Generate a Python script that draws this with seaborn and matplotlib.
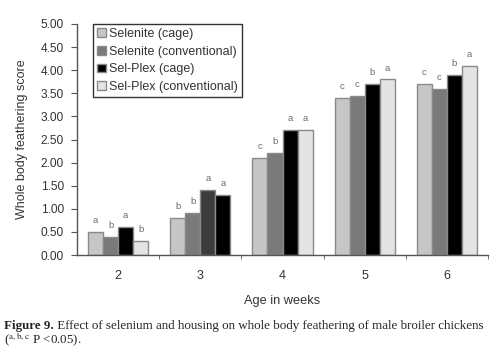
import matplotlib
matplotlib.use("Agg")
import matplotlib.pyplot as plt
import seaborn as sns
import pandas as pd
import numpy as np

weeks = ["2", "3", "4", "5", "6"]
groups = ["Selenite (cage)", "Selenite (conventional)", "Sel-Plex (cage)", "Sel-Plex (conventional)"]
selenite_cage = [0.50, 0.80, 2.10, 3.40, 3.70]
selenite_conv = [0.40, 0.90, 2.20, 3.45, 3.60]
selplex_cage = [0.60, 1.40, 2.70, 3.70, 3.90]
selplex_conv = [0.30, 1.30, 2.70, 3.80, 4.10]
letters = [
    ["a", "b", "c", "c", "c"],
    ["b", "b", "b", "c", "c"],
    ["a", "a", "a", "b", "b"],
    ["b", "a", "a", "a", "a"],
]
colors = ["#c6c6c6", "#7a7a7a", "#000000", "#e4e4e4"]

series = [selenite_cage, selenite_conv, selplex_cage, selplex_conv]
rows = []
for g, vals in zip(groups, series):
    for w, v in zip(weeks, vals):
        rows.append({"week": w, "group": g, "score": v})
df = pd.DataFrame(rows)

sns.set_style("white")
plt.rcParams["font.family"] = ["Liberation Sans", "DejaVu Sans"]

fig = plt.figure(figsize=(4.99, 3.54), dpi=100)
ax = fig.add_axes([77 / 499, 1 - 255 / 354, (488 - 77) / 499, (255 - 24) / 354])

sns.barplot(data=df, x="week", y="score", hue="group", hue_order=groups,
            order=weeks, palette=colors, width=0.73, gap=0,
            edgecolor="#8a8a8a", linewidth=1.0, saturation=1, ax=ax, errorbar=None)

# Annotate significance letters
for gi, cont in enumerate(ax.containers):
    for wi, bar in enumerate(cont):
        h = bar.get_height()
        ax.text(bar.get_x() + bar.get_width() / 2, h + 0.15, letters[gi][wi],
                ha="center", va="bottom", fontsize=6.8, color="#6a6a6a")

# oddity in reference: week 3 Sel-Plex bars appear dark gray / black
ax.containers[2][1].set_facecolor("#3c3c3c")
ax.containers[3][1].set_facecolor("#000000")

ax.set_xlim(-0.5, 4.5)
ax.set_ylim(0, 5)
ax.set_yticks(np.arange(0, 5.01, 0.5))
ax.set_yticklabels([f"{v:.2f}" for v in np.arange(0, 5.01, 0.5)])
ax.set_xticks(range(5))
ax.set_xticklabels(weeks)
ax.set_xticks([0.5, 1.5, 2.5, 3.5, 4.5], minor=True)
ax.tick_params(axis="x", which="major", length=0, pad=11, labelsize=9, labelcolor="#333333")
ax.tick_params(axis="x", which="minor", length=3, direction="out", color="#555555", bottom=True)
ax.tick_params(axis="y", length=4, direction="out", color="#555555", left=True,
               labelsize=8.6, labelcolor="#333333", pad=5.5)

for s in ["top", "right"]:
    ax.spines[s].set_visible(False)
for s in ["left", "bottom"]:
    ax.spines[s].set_color("#555555")
    ax.spines[s].set_linewidth(1.0)

ax.set_xlabel("Age in weeks", fontsize=9.2, color="#333333", labelpad=9)
ax.set_ylabel("Whole body feathering score", fontsize=9, color="#333333", labelpad=9)

leg = ax.legend(loc="upper left", bbox_to_anchor=(16 / 411, 1.0), fontsize=9,
                frameon=True, fancybox=False, edgecolor="#000000",
                handlelength=0.7, handleheight=0.7, handletextpad=0.3,
                labelspacing=0.46, borderpad=0.3, borderaxespad=0.0)
leg.get_frame().set_linewidth(1.0)
for t in leg.get_texts():
    t.set_color("#333333")

plt.rcParams["mathtext.fontset"] = "stix"
serif = ["Liberation Serif", "DejaVu Serif"]
t1 = fig.text(4 / 499, 1 - 329 / 354, "Figure 9.", fontsize=9.4, fontweight="bold",
              family=serif, va="baseline")
ax.annotate(" Effect of selenium and housing on whole body feathering of male broiler chickens",
            xy=(1, 0), xycoords=t1, va="bottom", fontsize=9.4,
            family=serif, annotation_clip=False)
fig.text(4 / 499, 1 - 344 / 354, r"($^{\mathrm{a,b,c}}$ P <0.05).", fontsize=9.4,
         family=serif, va="baseline")

fig.savefig("out.png", dpi=100)
